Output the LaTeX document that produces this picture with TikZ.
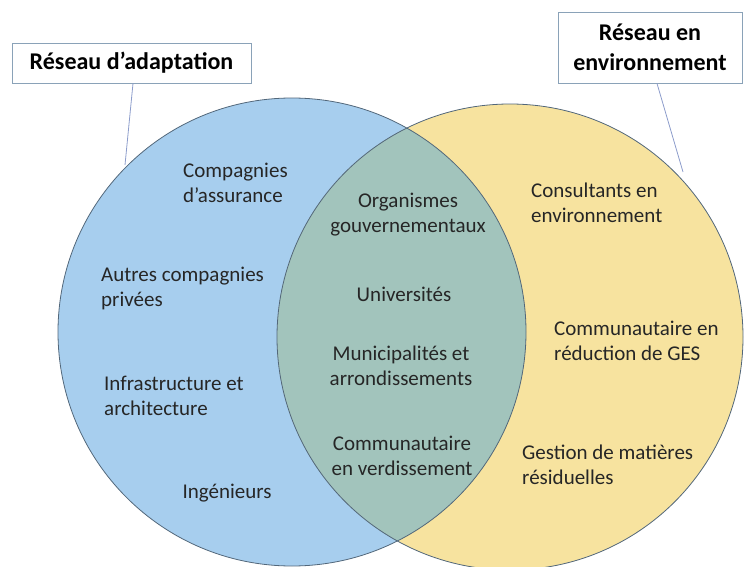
\documentclass[tikz,border=0pt]{standalone}
\usepackage{fontspec}
\setmainfont{Carlito}
\definecolor{bluefill}{HTML}{A7CEEE}
\definecolor{yellowfill}{HTML}{F7E39F}
\definecolor{greenfill}{HTML}{A2C4BC}
\definecolor{outline}{HTML}{52677A}
\definecolor{boxline}{HTML}{8AA2B8}
\definecolor{leader}{HTML}{8C9CCB}
\definecolor{txt}{HTML}{262626}
\tikzset{
  item/.style={inner sep=0pt, text=txt, font=\fontsize{21}{25}\selectfont},
  itemL/.style={item, anchor=west, align=left},
  itemC/.style={item, anchor=center, align=center},
  titlebox/.style={draw=boxline, line width=0.9pt, fill=white, inner sep=0pt,
    text=black, font=\bfseries\fontsize{24}{30}\selectfont, align=center},
  leaderline/.style={draw=leader, line width=0.8pt},
  ring/.style={draw=outline, line width=0.8pt}
}
\begin{document}
\begin{tikzpicture}[x=1pt,y=-1pt]
\useasboundingbox (0,0) rectangle (745,567);
\coordinate (cb) at (292,332);
\coordinate (cy) at (510,337);
% fills
\fill[bluefill] (cb) circle[radius=234pt];
\fill[yellowfill] (cy) circle[radius=233pt];
\begin{scope}
  \clip (cb) circle[radius=234pt];
  \fill[greenfill] (cy) circle[radius=233pt];
\end{scope}
\draw[ring] (cb) circle[radius=234pt];
\draw[ring] (cy) circle[radius=233pt];
% title boxes
\node[titlebox, minimum width=239pt, minimum height=40pt] (b1) at (131.5,63) {Réseau d’adaptation};
\node[titlebox, minimum width=184pt, minimum height=71pt] (b2) at (650,47.5) {Réseau en\\environnement};
\coordinate (e1) at (125,165);
\coordinate (e2) at (683,172);
\draw[leaderline] ([xshift=1.5pt]b1.south) -- (e1);
\draw[leaderline] ([xshift=7pt]b2.south) -- (e2);
% left circle items
\node[itemL] (n1) at (183,183) {Compagnies\\d’assurance};
\node[itemL] (n2) at (101,288) {Autres compagnies\\privées};
\node[itemL] (n3) at (104,396) {Infrastructure et\\architecture};
\node[itemC] (n4) at (227,493) {Ingénieurs};
% overlap items
\node[itemC] (m1) at (408,215) {Organismes\\gouvernementaux};
\node[itemC] (m2) at (404,294) {Universités};
\node[itemC] (m3) at (401,366) {Municipalités et\\arrondissements};
\node[itemC] (m4) at (402,456) {Communautaire\\en verdissement};
% right circle items
\node[itemL] (r1) at (531,203) {Consultants en\\environnement};
\node[itemL] (r2) at (554,341) {Communautaire en\\réduction de GES};
\node[itemL] (r3) at (522,465) {Gestion de matières\\résiduelles};
\end{tikzpicture}
\end{document}
